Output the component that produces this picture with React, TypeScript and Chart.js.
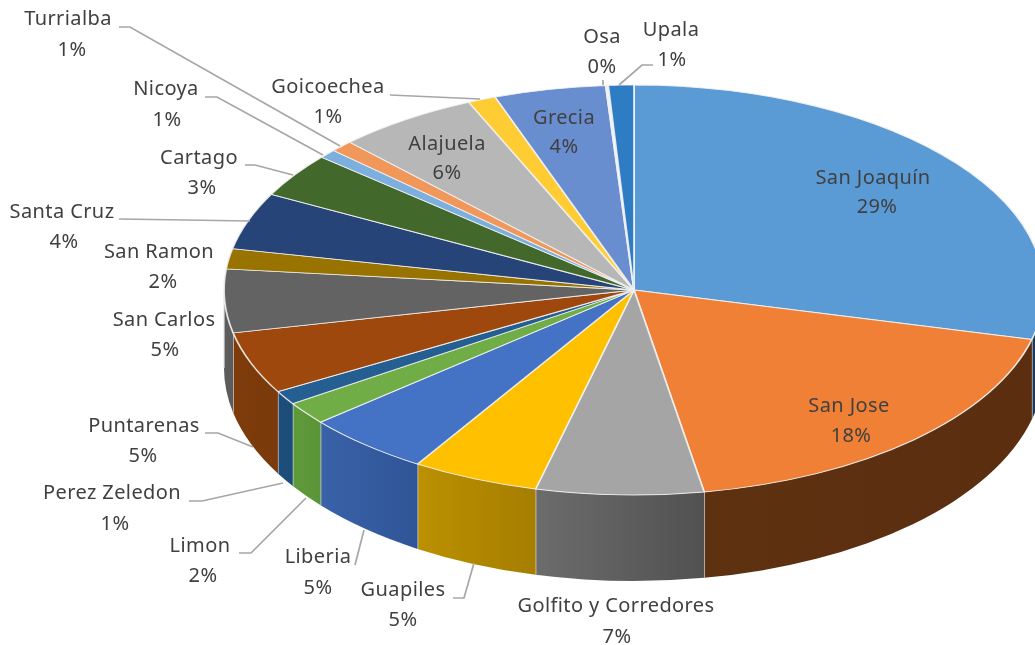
import React, { useEffect, useRef } from "react";
import { Chart, registerables } from "chart.js";

Chart.register(...registerables);

const categories = [
  "San Joaquín", "San Jose", "Golfito y Corredores", "Guapiles", "Liberia", "Limon", "Perez Zeledon",
  "Puntarenas", "San Carlos", "San Ramon", "Santa Cruz", "Cartago", "Nicoya", "Turrialba",
  "Alajuela", "Goicoechea", "Grecia", "Osa", "Upala",
];
const shares = [28.9, 18.4, 6.6, 5.0, 5.0, 1.8, 1.1, 4.9, 5.0, 1.6, 4.49, 3.49, 0.7, 0.9, 5.6, 1.1, 4.4, 0.1, 1.0];
const percentLabels = ["29%", "18%", "7%", "5%", "5%", "2%", "1%", "5%", "5%", "2%", "4%", "3%", "1%", "1%", "6%", "1%", "4%", "0%", "1%"];
const topColors = [
  "#5b9bd5", "#f08035", "#a5a5a5", "#ffc000", "#4472c4", "#70ad47", "#255e91", "#9e480e", "#636363", "#997300",
  "#264478", "#43682b", "#7cafdd", "#f1975a", "#b7b7b7", "#ffcd33", "#698ed0", "#eef2ea", "#2e7cc4",
];
const wallFrom = ["#1f3a58", "#5e3111", "#6c6c6c", "#bb9000", "#3a62a8", "#5f9a3a", "#1d4d78", "#7f3b0b", "#5c5c5c", "#6b5000",
  "#1a2f54", "#2f491e", "#5b87ad", "#a96a3f", "#808080", "#b38f24", "#4a6392", "#628749", "#205789"];
const wallTo = ["#1f3a58", "#5a2e0f", "#515151", "#a67e00", "#2f5597", "#5a9438", "#1c4c78", "#7a3a0b", "#5c5c5c", "#6b5000",
  "#1a2f54", "#2f491e", "#5b87ad", "#a96a3f", "#808080", "#b38f24", "#4a6392", "#628749", "#205789"];

// Label anchors in page pixels: [name x, name y, percent x, percent y]
const labelAnchors = [
  [873, 178, 877, 207], [849, 406, 851, 436], [616, 606, 617, 637], [403, 590, 403, 620], [318, 557, 318, 588],
  [200, 546, 203, 576], [112, 493, 115, 524], [144, 426, 143, 456], [164, 320, 165, 350], [159, 252, 163, 282],
  [62, 212, 64, 242], [199, 158, 202, 188], [166, 89, 167, 120], [68, 19, 72, 50], [447, 144, 447, 173],
  [328, 87, 328, 117], [564, 118, 564, 147], [602, 37, 602, 67], [671, 30, 672, 60],
];
const leaderLines = [
  [[119, 27], [130, 27], [340, 146]],
  [[205, 97], [217, 97], [323, 155]],
  [[245, 165], [255, 165], [293, 175]],
  [[119, 219], [250, 221]],
  [[390, 95], [480, 99]],
  [[603, 80], [603, 85]],
  [[653, 65], [642, 65], [619, 85]],
  [[205, 433], [218, 433], [253, 447]],
  [[189, 501], [202, 501], [283, 483]],
  [[239, 553], [251, 553], [306, 498]],
  [[355, 565], [364, 530]],
  [[453, 598], [464, 598], [474, 563]],
];

const TILT = { cx: 634, cy: 290, rx: 410, ry: 205, floorCy: 368, floorRy: 213 };

const tiltedPie = {
  id: "tiltedPie",
  beforeDatasetsDraw(chart: any) {
    const ctx = chart.ctx as CanvasRenderingContext2D;
    const arcs = chart.getDatasetMeta(0).data as any[];
    const { cx, cy, rx, ry, floorCy, floorRy } = TILT;

    // Side wall of each slice facing the viewer
    arcs.forEach((arc, i) => {
      const from = Math.max(arc.startAngle, 0);
      const to = Math.min(arc.endAngle, Math.PI);
      if (arc.startAngle > Math.PI || to <= from) return;
      const x1 = cx + rx * Math.cos(from);
      const x2 = cx + rx * Math.cos(to);
      const grad = ctx.createLinearGradient(x2, 0, x1, 0);
      grad.addColorStop(0, wallFrom[i]);
      grad.addColorStop(1, wallTo[i]);
      ctx.beginPath();
      ctx.ellipse(cx, cy, rx, ry, 0, from, to, false);
      ctx.ellipse(cx, floorCy, rx, floorRy, 0, to, from, true);
      ctx.closePath();
      ctx.fillStyle = grad;
      ctx.fill();
      ctx.beginPath();
      ctx.moveTo(x2, cy + ry * Math.sin(to));
      ctx.lineTo(x2, floorCy + floorRy * Math.sin(to));
      ctx.strokeStyle = "rgba(225,225,225,0.8)";
      ctx.lineWidth = 1.5;
      ctx.stroke();
    });

    // Top face: the library's own arc elements under a flattening transform
    const first = arcs[0];
    ctx.save();
    ctx.translate(cx, cy);
    ctx.scale(rx / first.outerRadius, ry / first.outerRadius);
    ctx.translate(-first.x, -first.y);
    arcs.forEach((arc) => arc.draw(ctx));
    ctx.restore();
    return false;
  },
  afterDraw(chart: any) {
    const ctx = chart.ctx as CanvasRenderingContext2D;
    ctx.save();
    ctx.strokeStyle = "#a6a6a6";
    ctx.lineWidth = 1.7;
    leaderLines.forEach((line) => {
      ctx.beginPath();
      line.forEach(([x, y], k) => (k ? ctx.lineTo(x, y) : ctx.moveTo(x, y)));
      ctx.stroke();
    });
    ctx.fillStyle = "#404040";
    ctx.font = '20px "Noto Sans"';
    (ctx as any).letterSpacing = "0.4px";
    ctx.textAlign = "center";
    ctx.textBaseline = "middle";
    categories.forEach((name, i) => {
      const [nx, ny, px, py] = labelAnchors[i];
      ctx.fillText(name, nx, ny);
      ctx.fillText(percentLabels[i], px, py);
    });
    ctx.restore();
  },
};

export default function App() {
  const ref = useRef<HTMLCanvasElement>(null);
  useEffect(() => {
    const chart = new Chart(ref.current as HTMLCanvasElement, {
      type: "pie",
      data: {
        labels: categories,
        datasets: [
          {
            data: shares,
            backgroundColor: topColors,
            borderColor: "rgba(242,242,242,0.9)",
            borderWidth: 1.4,
          },
        ],
      },
      options: {
        animation: false,
        responsive: false,
        devicePixelRatio: 1,
        layout: { padding: 0 },
        plugins: { legend: { display: false }, tooltip: { enabled: false } },
      },
      plugins: [tiltedPie],
    } as any);
    return () => chart.destroy();
  }, []);
  return (
    <canvas
      ref={ref}
      width={1035}
      height={645}
      style={{ position: "absolute", left: 0, top: 0, width: 1035, height: 645, display: "block" }}
    />
  );
}
